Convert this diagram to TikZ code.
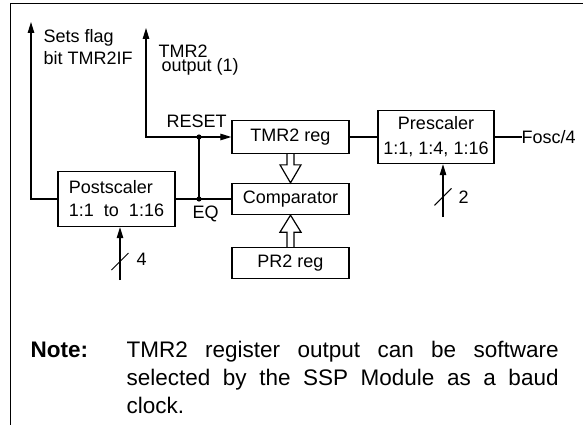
\documentclass[tikz,border=0pt]{standalone}
\usepackage{fontspec}
\setmainfont{Liberation Sans}
\usetikzlibrary{arrows.meta,calc}

\tikzset{
  blk/.style={draw, line width=1.3pt, minimum width=117pt, inner sep=0pt, font=\fontsize{18}{23}\selectfont},
  lbl/.style={inner sep=0pt, font=\fontsize{18}{22}\selectfont},
  bus/.style={line width=1.2pt, fill=white}
}

\begin{document}
\begin{tikzpicture}[x=1pt, y=-1pt, line width=1.2pt, >={Triangle[length=11pt,width=6.5pt]}]
\useasboundingbox (0,0) rectangle (583,425);

\draw[line width=1.5pt] (583,3.5) -- (10.5,3.5) -- (10.5,425);

\node[blk, minimum height=55pt, align=left] (postsc) at (116.5,199) {Postscaler\\1:1\ \ to\ \ 1:16};
\node[blk, minimum height=33pt] (tmrreg) at (290.5,137) {TMR2 reg};
\node[blk, minimum height=31pt] (comp) at (290.5,199) {Comparator};
\node[blk, minimum height=31pt] (prreg) at (290.5,263) {PR2 reg};
\node[blk, minimum width=116pt, minimum height=53pt, align=center, font=\fontsize{18}{25}\selectfont] (presc) at (436,137) {Prescaler\\1:1, 1:4, 1:16};

\coordinate (flagtop) at (31,22);
\coordinate (outtop) at (146,28);
\coordinate (resetdot) at (199,137);
\coordinate (eqdot) at (resetdot |- comp.west);
\coordinate (fosc) at (522,137);
\coordinate (in4) at (120,280);
\coordinate (in2) at (443,217);

\draw[->] (postsc.west) -| (flagtop);
\draw[<->] (outtop) |- (tmrreg.west);
\draw (postsc.east) -- (comp.west);
\draw (resetdot) -- (eqdot);
\fill (resetdot) circle (2.6pt);
\fill (eqdot) circle (2.6pt);
\draw (tmrreg.east) -- (presc.west);
\draw (presc.east) -- (fosc);

\draw[->] (in4) -- coordinate[pos=0.35] (s4) (in4 |- postsc.south);
\draw[line width=1pt] ($(s4)+(-8.5,8.5)$) -- ($(s4)+(8.5,-8.5)$);
\draw[->] (in2) -- coordinate[pos=0.38] (s2) (in2 |- presc.south);
\draw[line width=1pt] ($(s2)+(-8.5,8.5)$) -- ($(s2)+(8.5,-8.5)$);

\draw[bus] ($(tmrreg.south)+(-3.5,0)$) -- ($(comp.north)+(-3.5,-18)$) -- ++(-7,0) -- (comp.north)
  -- ++(10.5,-18) -- ++(-7,0) -- ($(tmrreg.south)+(3.5,0)$);
\draw[bus] ($(prreg.north)+(-3.5,0)$) -- ($(comp.south)+(-3.5,17)$) -- ++(-7,0) -- (comp.south)
  -- ++(10.5,17) -- ++(-7,0) -- ($(prreg.north)+(3.5,0)$);

\node[lbl, anchor=base west, align=left] (flagl) at (43,65) {Sets flag\\bit TMR2IF};
\node[lbl, anchor=base west, align=left, font=\fontsize{18}{14}\selectfont] (outl) at (158,72) {TMR2\\\hspace*{3pt}output (1)};
\node[lbl, anchor=base west] (resetl) at (166,128) {RESET};
\node[lbl, anchor=base west] (eql) at (192,218) {EQ};
\node[lbl, anchor=base west] (foscl) at (521,143) {Fosc/4};
\node[lbl, anchor=base west] (n4) at (136,265) {4};
\node[lbl, anchor=base west] (n2) at (458,203) {2};

\node[inner sep=0pt, anchor=base west, font=\fontsize{22.5}{28}\selectfont\bfseries] (notel) at (30,357) {Note:};
\node[inner sep=0pt, anchor=base west, text width=432pt, align=justify, font=\fontsize{22.5}{28}\selectfont] (notet) at (126,357)
  {TMR2 register output can be software\linebreak selected by the SSP Module as a baud\linebreak clock.};
\end{tikzpicture}
\end{document}
